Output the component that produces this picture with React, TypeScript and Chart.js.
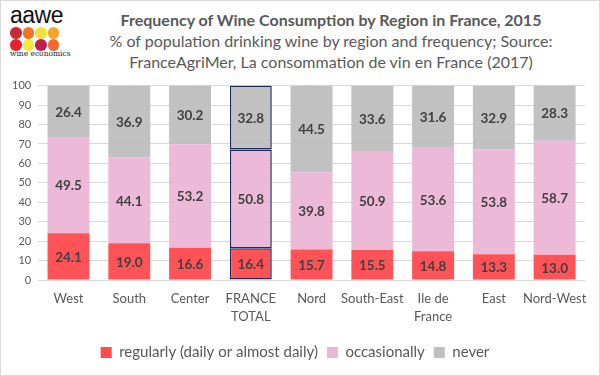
import React, { useEffect, useRef } from "react";
import { Chart, registerables } from "chart.js";

Chart.register(...registerables);

const categories: (string | string[])[] = ["West", "South", "Center", ["FRANCE", "TOTAL"], "Nord", "South-East", ["Ile de", "France"], "East", "Nord-West"];
const regularly = [24.1, 19.0, 16.6, 16.4, 15.7, 15.5, 14.8, 13.3, 13.0];
const occasionally = [49.5, 44.1, 53.2, 50.8, 39.8, 50.9, 53.6, 53.8, 58.7];
const never = [26.4, 36.9, 30.2, 32.8, 44.5, 33.6, 31.6, 32.9, 28.3];
const seriesNames = ["regularly (daily or almost daily)", "occasionally", "never"];
const yTicks = [0, 10, 20, 30, 40, 50, 60, 70, 80, 90, 100];
const highlightIndex = 3;

const FONT = "Lato, 'Open Sans', sans-serif";

const labelPlugin = {
  id: "barLabels",
  afterDatasetsDraw(chart: any) {
    const ctx = chart.ctx;
    ctx.save();
    ctx.font = `bold 13.5px ${FONT}`;
    ctx.fillStyle = "#404040";
    ctx.textAlign = "center";
    ctx.textBaseline = "middle";
    chart.data.datasets.forEach((ds: any, di: number) => {
      const meta = chart.getDatasetMeta(di);
      meta.data.forEach((bar: any, i: number) => {
        const v = ds.data[i];
        const yc = (bar.y + bar.base) / 2;
        ctx.fillText(v.toFixed(1), bar.x, yc + 1);
      });
    });
    ctx.restore();
  },
};

function App() {
  const ref = useRef<HTMLCanvasElement>(null);
  useEffect(() => {
    if (!ref.current) return;
    const mk = (label: string, data: number[], color: string, legendColor: string) => ({
      label,
      data,
      backgroundColor: color,
      legendColor,
      borderColor: data.map((_, i) => (i === highlightIndex ? "#1f2a5c" : color)),
      borderWidth: data.map((_, i) => (i === highlightIndex ? 1.5 : 0)),
      borderSkipped: false,
      barPercentage: 0.69,
      categoryPercentage: 1,
    });
    const chart = new Chart(ref.current, {
      type: "bar",
      data: {
        labels: categories,
        datasets: [
          mk(seriesNames[0], regularly, "rgba(255,70,74,0.93)", "#ff4b4e"),
          mk(seriesNames[1], occasionally, "rgba(235,180,214,0.93)", "#ebb7d7"),
          mk(seriesNames[2], never, "rgba(188,188,188,0.93)", "#bfbfbf"),
        ],
      },
      options: {
        animation: false,
        responsive: false,
        maintainAspectRatio: false,
        layout: { padding: { left: 4, right: 14, top: 4, bottom: 6 } },
        scales: {
          x: {
            stacked: true,
            grid: { display: false, drawTicks: false },
            border: { display: false },
            ticks: { color: "#595959", font: { family: FONT, size: 13, lineHeight: 1.38 }, padding: 10, maxRotation: 0, autoSkip: false },
          },
          y: {
            stacked: true,
            min: 0,
            max: 100,
            afterBuildTicks: (axis: any) => {
              axis.ticks = yTicks.map((v) => ({ value: v }));
            },
            grid: { color: "#d9d9d9", drawTicks: false },
            border: { display: false },
            ticks: { color: "#595959", font: { family: FONT, size: 11 }, padding: 7 },
          },
        },
        plugins: {
          tooltip: { enabled: false },
          legend: {
            position: "bottom",
            labels: {
              boxWidth: 11,
              boxHeight: 11,
              color: "#595959",
              font: { family: FONT, size: 15 },
              padding: 9,
              generateLabels: (chart: any) =>
                chart.data.datasets.map((ds: any, i: number) => ({
                  text: ds.label,
                  fillStyle: ds.legendColor,
                  strokeStyle: ds.legendColor,
                  lineWidth: 0,
                  datasetIndex: i,
                  fontColor: "#595959",
                })),
            },
          },
        },
      },
      plugins: [labelPlugin],
    } as any);
    return () => chart.destroy();
  }, []);

  const dots = [
    ["#c62a33", "#ef7523", "#eee23a", "#f5a52a"],
    ["#e8232f", "#f6e83c", "#bf1f4f", "#ee6a33"],
  ];

  return (
    <div style={{ position: "fixed", left: 0, top: 0, width: 600, height: 376, background: "#fff", boxSizing: "border-box", border: "1px solid #d9d9d9", overflow: "hidden", fontFamily: FONT }}>
      <div style={{ position: "absolute", left: 9, top: 3, fontSize: 23, lineHeight: "23px", color: "#111", fontFamily: "'Liberation Sans', Arial, sans-serif", letterSpacing: -0.5 }}>aawe</div>
      {dots.map((row, r) =>
        row.map((c, k) => (
          <div key={`${r}-${k}`} style={{ position: "absolute", left: 9 + k * 12.5, top: 26 + r * 12, width: 11.5, height: 11.5, borderRadius: "50%", background: c }} />
        ))
      )}
      <div style={{ position: "absolute", left: 9, top: 49, fontSize: 7.5, lineHeight: "8px", color: "#222", fontFamily: "'DejaVu Serif', serif" }}>wine economics</div>
      <div style={{ position: "absolute", left: 60, width: 540, top: 8, textAlign: "center", color: "#595959", fontSize: 16, lineHeight: "21px" }}>
        <div style={{ fontWeight: "bold" }}>Frequency of Wine Consumption by Region in France, 2015</div>
        <div>% of population drinking wine by region and frequency; Source:</div>
        <div>FranceAgriMer, La consommation de vin en France (2017)</div>
      </div>
      <canvas ref={ref} width={598} height={304} style={{ position: "absolute", left: 0, top: 71, width: 598, height: 304 }} />
    </div>
  );
}

export default App;
